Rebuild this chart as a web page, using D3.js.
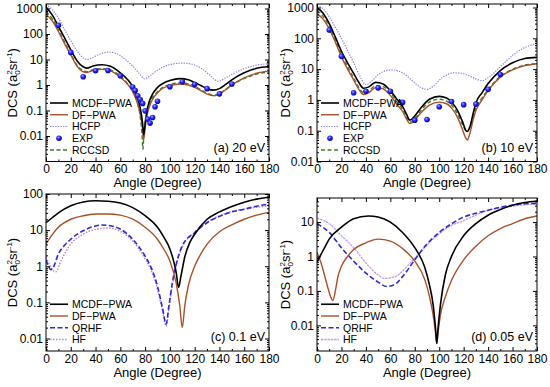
<!DOCTYPE html>
<html>
<head>
<meta charset="utf-8">
<script src="https://cdn.jsdelivr.net/npm/d3@7"></script>
<style>
  body { margin: 0; background: #fff; }
  svg { font-family: "Liberation Sans", Arial, sans-serif; }
  .tick text { font-size: 12px; fill: #000; }
</style>
</head>
<body>
<svg id="chart" width="550" height="387"></svg>
<script>
// ---- data: [angle (deg), DCS (a0^2 sr^-1)] ----
const xTicks = [0, 20, 40, 60, 80, 100, 120, 140, 160, 180];
const xMinor = [10, 30, 50, 70, 90, 110, 130, 150, 170];

// (a) 20 eV
const a_mcdf = [[0,1150],[5,560],[10,200],[15,70],[20,24],[25,9],[30,5.2],[33,4.6],[38,5.6],[45,6.2],[52,5.4],[60,3.0],[66,1.6],[70,0.85],[74,0.3],[76,0.13],[78,0.03],[78.8,0.011],[80,0.03],[82,0.13],[85,0.35],[90,0.8],[95,1.2],[100,1.5],[108,1.78],[115,1.6],[120,1.25],[125,0.95],[130,0.72],[135,0.63],[140,0.72],[145,1.05],[150,1.6],[160,3.0],[170,4.5],[180,5.3]];
const a_df = [[0,600],[5,330],[10,125],[15,42],[20,15],[25,5.5],[30,3.3],[33,3.1],[38,3.7],[45,4.1],[52,3.6],[60,2.0],[66,1.05],[70,0.55],[74,0.18],[76,0.075],[78,0.018],[78.8,0.007],[80,0.02],[82,0.08],[85,0.22],[90,0.5],[95,0.78],[100,0.95],[108,1.1],[115,1.0],[120,0.8],[125,0.6],[130,0.44],[136,0.38],[140,0.44],[145,0.65],[150,1.0],[160,1.9],[170,2.9],[180,3.5]];
const a_hcfp = [[0,1400],[5,900],[10,420],[15,150],[20,55],[25,22],[30,11.5],[33,10],[37,11.5],[43,16],[50,19.5],[57,17],[63,11],[70,5.5],[75,2.9],[79.5,1.75],[84,2.3],[90,3.8],[100,6.3],[110,7.2],[118,6.5],[125,4.6],[132,2.5],[139,1.4],[145,1.9],[150,2.6],[160,4.4],[170,6.0],[180,6.8]];
const a_rccsd = [[0,750],[5,400],[10,150],[15,48],[20,17],[25,6],[30,3.6],[33,3.3],[38,4.0],[45,4.4],[52,3.9],[60,2.2],[66,1.1],[70,0.6],[74,0.18],[76,0.06],[77.5,0.012],[78.3,0.003],[79,0.012],[81,0.06],[84,0.2],[90,0.55],[95,0.85],[100,1.05],[108,1.2],[115,1.1],[120,0.9],[125,0.65],[130,0.48],[136,0.4],[140,0.46],[145,0.68],[150,1.0],[160,1.8],[170,2.7],[180,3.2]];
const a_exp = [[10,220],[20,19],[30,2.1],[40,3.6],[50,3.7],[60,2.3],[70,0.83],[72,0.61],[74,0.38],[76,0.27],[78,0.19],[80,0.097],[82,0.046],[84,0.032],[86,0.053],[88,0.14],[90,0.23],[100,0.85],[110,1.35],[120,1.05],[130,0.72],[140,0.45],[150,1.1]];

// (b) 10 eV
const b_mcdf = [[0,1000],[5,650],[10,300],[15,110],[20,38],[25,16],[30,7.3],[34,3.8],[38,2.4],[42,2.6],[48,3.7],[54,3.3],[60,2.0],[65,1.1],[70,0.62],[73,0.36],[76,0.22],[79,0.27],[85,0.55],[92,1.05],[100,1.3],[106,1.15],[110,0.85],[115,0.45],[119,0.2],[122,0.1],[123,0.095],[125,0.13],[128,0.4],[130,0.8],[135,1.7],[140,3.4],[150,9],[160,16],[170,22],[180,24]];
const b_df = [[0,620],[5,420],[10,200],[15,75],[20,25],[25,10],[30,4.5],[34,2.3],[38,1.5],[42,1.7],[48,2.5],[54,2.3],[60,1.4],[65,0.75],[70,0.42],[73,0.25],[76,0.17],[79,0.2],[85,0.38],[92,0.68],[100,0.85],[106,0.75],[110,0.55],[115,0.27],[119,0.11],[122,0.055],[123,0.05],[125,0.08],[128,0.25],[130,0.45],[135,1.0],[140,2.0],[150,5.5],[160,9.5],[170,13],[180,15]];
const b_hcfp = [[0,1150],[5,900],[10,500],[15,230],[20,100],[25,40],[30,16],[35,6],[40,3.1],[45,4.2],[50,6.5],[56,8.8],[62,9.4],[70,7.5],[78,4.2],[85,2.5],[90,2.2],[95,2.8],[103,5.5],[113,7.6],[120,7.0],[128,5.2],[135,4.2],[140,5.2],[150,12],[160,28],[170,50],[180,69]];
const b_rccsd = [[0,800],[5,520],[10,240],[15,90],[20,30],[25,12],[30,5.2],[34,2.6],[38,1.7],[42,1.9],[48,2.9],[54,2.7],[60,1.7],[65,0.9],[70,0.5],[73,0.3],[76,0.19],[79,0.22],[85,0.45],[92,0.85],[100,1.05],[106,0.92],[110,0.68],[115,0.35],[119,0.16],[122,0.1],[123,0.1],[125,0.13],[128,0.3],[130,0.55],[135,1.15],[140,2.2],[150,5.8],[160,9.8],[170,13.5],[180,15]];
const b_exp = [[10,186],[20,26],[30,1.7],[40,1.9],[50,2.45],[60,1.9],[70,0.83],[80,0.22],[90,0.23],[100,0.6],[110,0.88],[120,0.7],[130,0.73],[140,2.2],[150,6.7]];

// (c) 0.1 eV
const c_mcdf = [[0,16],[5,22],[10,30],[20,47],[30,60],[40,65],[50,63],[60,56],[70,42],[80,25],[90,12],[95,6.5],[100,3],[103,1.4],[105,0.7],[107,0.26],[109,0.55],[112,1.8],[116,4.5],[120,7.7],[130,20],[140,32],[150,45],[160,59],[170,72],[180,81]];
const c_df = [[0,4.1],[5,7.5],[10,12],[20,20],[30,25],[40,28],[50,28],[60,26],[70,20],[80,12],[90,5.6],[95,3],[100,1.4],[105,0.35],[108,0.08],[110,0.02],[112,0.08],[115,0.3],[120,1.0],[125,2.2],[130,4.1],[140,9],[150,14],[160,20],[170,26],[180,31]];
const c_qrhf = [[0,1.5],[2,1.0],[4,0.8],[6,0.95],[10,2.2],[15,3.8],[20,5.6],[30,9.6],[40,13],[45,13.8],[50,13.5],[60,10.7],[70,5.6],[80,1.9],[85,0.9],[90,0.28],[94,0.07],[97,0.025],[99,0.07],[102,0.35],[105,1.1],[110,3.7],[120,8.6],[130,16],[140,24],[150,32],[160,38],[170,46],[180,53]];
const c_hf = [[0,1.8],[3,1.1],[6,0.75],[8,0.7],[12,1.4],[20,4.1],[30,7.7],[40,10.5],[50,11.5],[60,9.2],[70,5],[80,1.6],[85,0.75],[90,0.23],[94,0.06],[97,0.022],[99,0.06],[102,0.3],[105,1.0],[110,3.4],[120,8.5],[130,16.5],[140,25],[150,33],[160,38],[170,43],[180,46]];

// (d) 0.05 eV
const d_mcdf = [[0,0.7],[5,1.5],[10,3.2],[20,7.1],[30,12.5],[42,15],[50,14],[60,10],[70,5],[80,1.8],[88,0.5],[92,0.15],[95,0.04],[97,0.008],[98,0.003],[99,0.008],[101,0.04],[105,0.29],[110,1],[120,4],[130,9],[140,15.8],[150,23],[160,31],[170,37],[180,41]];
const d_df = [[0,1.3],[3,0.7],[6,0.3],[9,0.12],[11,0.07],[13,0.053],[15,0.1],[17,0.25],[20,0.52],[25,1.0],[30,1.6],[40,2.5],[50,3.2],[60,2.8],[70,1.7],[80,0.73],[88,0.22],[92,0.07],[95,0.02],[97,0.006],[98,0.003],[99,0.006],[101,0.02],[105,0.067],[110,0.2],[120,0.8],[130,2],[140,4],[150,6.5],[160,9],[170,12.5],[180,15]];
const d_qrhf = [[0,9],[10,5],[20,1.8],[30,0.73],[40,0.33],[50,0.18],[57,0.135],[63,0.15],[70,0.26],[80,0.8],[90,2.3],[100,5],[110,8.9],[120,14],[130,18],[140,22],[150,27],[160,31],[170,34],[180,35]];
const d_hf = [[0,13],[10,9],[20,4],[30,1.8],[40,0.65],[50,0.29],[55,0.23],[60,0.24],[65,0.27],[75,0.58],[85,1.4],[95,3.2],[110,8],[120,11],[130,16],[140,22],[150,26],[160,29],[170,32],[180,33]];

const yTicksA = [1000, 100, 10, 1, 0.1, 0.01];
const yTicksB = [1000, 100, 10, 1, 0.1, 0.01];
const yTicksC = [100, 10, 1, 0.1, 0.01];
const yTicksD = [10, 1, 0.1, 0.01];

// ---- styles ----
const sty = {
  mcdf:  { name: 'MCDF\u2212PWA', color: '#000000', width: 1.6, dash: null },
  df:    { name: 'DF\u2212PWA', color: '#a8502a', width: 1.4, dash: null },
  hcfp:  { name: 'HCFP', color: '#8d7ce8', width: 1.2, dash: '1.3,1.3' },
  exp:   { name: 'EXP', point: true },
  rccsd: { name: 'RCCSD', color: '#3f7d22', width: 1.4, dash: '4,2.5' },
  qrhf:  { name: 'QRHF', color: '#2a2ad8', width: 1.6, dash: '5,2.5' },
  hfc:   { name: 'HF', color: '#b482e6', width: 1.4, dash: '1.5,1.5' },
  hfd:   { name: 'HF', color: '#c49cf0', width: 1.3, dash: '2.5,0.8' }
};

const panels = [
  { left: 46, right: 269, top: 4, bottom: 161.5, ydom: [0.001, 1500], yTicks: yTicksA, ylx: 13, label: '(a) 20 eV',
    series: [[sty.hcfp, a_hcfp], [sty.rccsd, a_rccsd], [sty.df, a_df], [sty.mcdf, a_mcdf], [sty.exp, a_exp]],
    legend: [sty.mcdf, sty.df, sty.hcfp, sty.exp, sty.rccsd] },
  { left: 317, right: 537, top: 4, bottom: 161.5, ydom: [0.01, 1300], yTicks: yTicksB, ylx: 286, label: '(b) 10 eV',
    series: [[sty.hcfp, b_hcfp], [sty.rccsd, b_rccsd], [sty.df, b_df], [sty.mcdf, b_mcdf], [sty.exp, b_exp]],
    legend: [sty.mcdf, sty.df, sty.hcfp, sty.exp, sty.rccsd] },
  { left: 46, right: 269, top: 194, bottom: 351, ydom: [0.0045, 100], yTicks: yTicksC, ylx: 13, label: '(c) 0.1 eV',
    series: [[sty.hfc, c_hf], [sty.qrhf, c_qrhf], [sty.df, c_df], [sty.mcdf, c_mcdf]],
    legend: [sty.mcdf, sty.df, sty.qrhf, sty.hfc] },
  { left: 317, right: 537, top: 198, bottom: 351, ydom: [0.0018, 50], yTicks: yTicksD, ylx: 286, label: '(d) 0.05 eV',
    series: [[sty.hfd, d_hf], [sty.qrhf, d_qrhf], [sty.df, d_df], [sty.mcdf, d_mcdf]],
    legend: [sty.mcdf, sty.df, sty.qrhf, sty.hfd] }
];

const svg = d3.select('#chart');
const defs = svg.append('defs');
const grad = defs.append('radialGradient').attr('id', 'ball')
  .attr('cx', '40%').attr('cy', '35%').attr('r', '65%');
grad.append('stop').attr('offset', '0').attr('stop-color', '#a8a8ff');
grad.append('stop').attr('offset', '0.45').attr('stop-color', '#2a2af2');
grad.append('stop').attr('offset', '1').attr('stop-color', '#0000b0');

function logMinor(dom) {
  const out = [];
  for (let k = Math.floor(Math.log10(dom[0])); k <= Math.ceil(Math.log10(dom[1])); k++) {
    for (let m = 2; m <= 9; m++) {
      const v = m * Math.pow(10, k);
      if (v > dom[0] && v < dom[1]) out.push(v);
    }
  }
  return out;
}

function drawPanel(p, i) {
  const x = d3.scaleLinear().domain([0, 180]).range([p.left, p.right]);
  const y = d3.scaleLog().domain(p.ydom).range([p.bottom, p.top]);
  const g = svg.append('g');

  defs.append('clipPath').attr('id', 'clip' + i)
    .append('rect')
    .attr('x', p.left).attr('y', p.top)
    .attr('width', p.right - p.left).attr('height', p.bottom - p.top);

  const plot = g.append('g').attr('clip-path', 'url(#clip' + i + ')');
  const line = d3.line()
    .x(d => x(d[0]))
    .y(d => y(d[1]))
    .curve(d3.curveMonotoneX);

  p.series.forEach(([s, data]) => {
    if (s.point) {
      plot.selectAll(null).data(data).join('circle')
        .attr('cx', d => x(d[0])).attr('cy', d => y(d[1]))
        .attr('r', 2.8).attr('fill', 'url(#ball)');
    } else {
      plot.append('path').datum(data)
        .attr('d', line)
        .attr('fill', 'none')
        .attr('stroke', s.color)
        .attr('stroke-width', s.width)
        .attr('stroke-dasharray', s.dash);
    }
  });

  // frame
  g.append('rect')
    .attr('x', p.left).attr('y', p.top)
    .attr('width', p.right - p.left).attr('height', p.bottom - p.top)
    .attr('fill', 'none').attr('stroke', '#000').attr('stroke-width', 1);

  // axes, ticks pointing inward
  const minorY = logMinor(p.ydom);
  const axes = [
    [d3.axisBottom(x).tickValues(xTicks).tickFormat(d3.format('d')), `translate(0,${p.bottom})`, 4, true],
    [d3.axisBottom(x).tickValues(xMinor).tickFormat(''), `translate(0,${p.bottom})`, 2, false],
    [d3.axisTop(x).tickValues(xTicks).tickFormat(''), `translate(0,${p.top})`, 4, false],
    [d3.axisTop(x).tickValues(xMinor).tickFormat(''), `translate(0,${p.top})`, 2, false],
    [d3.axisLeft(y).tickValues(p.yTicks).tickFormat(d => String(d)), `translate(${p.left},0)`, 4, true],
    [d3.axisLeft(y).tickValues(minorY).tickFormat(''), `translate(${p.left},0)`, 2, false],
    [d3.axisRight(y).tickValues(p.yTicks).tickFormat(''), `translate(${p.right},0)`, 4, false],
    [d3.axisRight(y).tickValues(minorY).tickFormat(''), `translate(${p.right},0)`, 2, false]
  ];
  axes.forEach(([ax, tr, len, lab]) => {
    const a = g.append('g').attr('transform', tr)
      .call(ax.tickSize(-len).tickPadding(lab ? 3 : 0));
    a.select('.domain').remove();
    a.selectAll('.tick line').attr('stroke', '#000');
    if (!lab) a.selectAll('.tick text').remove();
    a.attr('font-family', null).attr('font-size', null);
  });

  // axis titles
  g.append('text')
    .attr('x', (p.left + p.right) / 2).attr('y', p.bottom + 25.5)
    .attr('text-anchor', 'middle').attr('font-size', 13)
    .text('Angle (Degree)');

  const yl = g.append('text')
    .attr('transform', `translate(${p.ylx + 4},${(p.top + p.bottom) / 2}) rotate(-90)`)
    .attr('text-anchor', 'middle').attr('font-size', 13);
  yl.append('tspan').text('DCS (a');
  yl.append('tspan').attr('font-size', 8).attr('dy', 2.5).text('0');
  yl.append('tspan').attr('font-size', 8).attr('dx', -4.4).attr('dy', -7.5).text('2');
  yl.append('tspan').attr('dy', 5).text('sr');
  yl.append('tspan').attr('font-size', 8).attr('dy', -5).text('-1');
  yl.append('tspan').attr('dy', 5).text(')');

  // panel label
  g.append('text')
    .attr('x', p.right - 4).attr('y', p.bottom - 10)
    .attr('text-anchor', 'end').attr('font-size', 12.5)
    .text(p.label);

  // legend
  const n = p.legend.length;
  p.legend.forEach((s, k) => {
    const ly = p.bottom - 11.5 - 11.75 * (n - 1 - k);
    const lx = p.left + 4;
    if (s.point) {
      g.append('circle').attr('cx', lx + 9).attr('cy', ly).attr('r', 2.8).attr('fill', 'url(#ball)');
    } else {
      g.append('line')
        .attr('x1', lx).attr('x2', lx + 18).attr('y1', ly).attr('y2', ly)
        .attr('stroke', s.color).attr('stroke-width', s.width)
        .attr('stroke-dasharray', s.dash);
    }
    g.append('text')
      .attr('x', lx + 22).attr('y', ly).attr('dy', '0.36em')
      .attr('font-size', 10.5)
      .text(s.name);
  });
}

panels.forEach(drawPanel);
</script>
</body>
</html>
